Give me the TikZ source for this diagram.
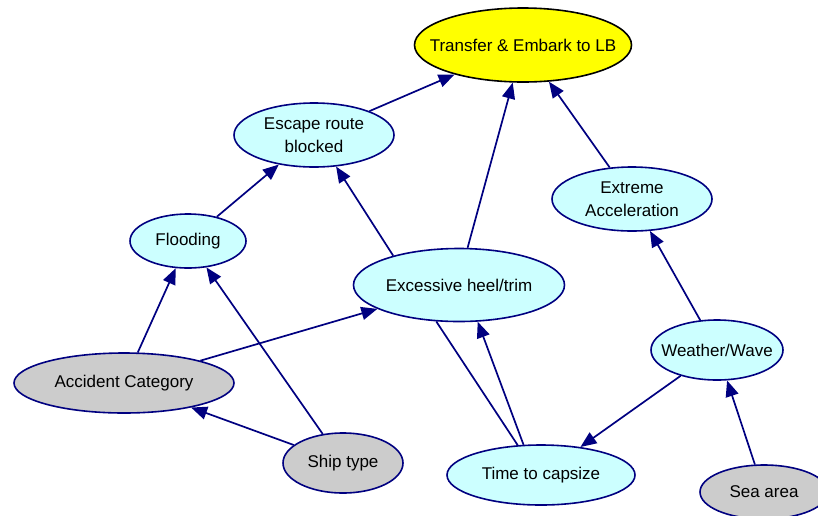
\documentclass[tikz,border=0pt]{standalone}
\usepackage{fontspec}
\setmainfont{Liberation Sans}
\usetikzlibrary{shapes.geometric,arrows.meta}
\definecolor{navyline}{RGB}{0,0,128}
\definecolor{cyanfill}{RGB}{204,255,255}
\definecolor{grayfill}{RGB}{204,204,204}
\definecolor{yellowfill}{RGB}{255,255,0}
\tikzset{
  every label/.style={align=center, font=\fontsize{17}{23}\selectfont, text=black, inner sep=0pt},
  bn/.style={ellipse, draw=navyline, line width=1.6pt, inner sep=0pt},
  obs/.style={bn, fill=cyanfill},
  evid/.style={bn, fill=grayfill},
  goal/.style={bn, fill=yellowfill, draw=black},
  link/.style={draw=navyline, line width=1.7pt, -{Triangle[length=16pt,width=13pt]}},
  plain/.style={draw=navyline, line width=1.7pt}
}
\begin{document}
\begin{tikzpicture}[x=1pt,y=-1pt]
\useasboundingbox (0,0) rectangle (818,515);
\node[goal, minimum width=217pt, minimum height=74pt, label=center:{Transfer \& Embark to LB}] (tr) at (523,45) {};
\node[obs, minimum width=160pt, minimum height=64pt, label=center:{Escape route\\blocked}] (es) at (314,135) {};
\node[obs, minimum width=160pt, minimum height=64pt, label=center:{Extreme\\Acceleration}] (ea) at (632,199) {};
\node[obs, minimum width=116pt, minimum height=54pt, label=center:{Flooding}] (fl) at (188,241) {};
\node[obs, minimum width=211pt, minimum height=73pt, label=center:{Excessive heel/trim}] (ex) at (459,285) {};
\node[obs, minimum width=132pt, minimum height=60pt, label=center:{Weather/Wave}] (ww) at (717,350) {};
\node[evid, minimum width=220pt, minimum height=60pt, label=center:{Accident Category}] (ac) at (124,383) {};
\node[evid, minimum width=120pt, minimum height=60pt, label=center:{Ship type}] (st) at (343,463) {};
\node[obs, minimum width=188pt, minimum height=60pt, label=center:{Time to capsize}] (tc) at (541,475) {};
\node[evid, minimum width=128pt, minimum height=54pt, label=center:{Sea area}] (sa) at (764,492) {};

\draw[link] (es) -- (tr);
\draw[link] (ex.77) -- (tr);
\draw[link] (ea) -- (tr);
\draw[link] (fl) -- (es);
\draw[link] (ex.156) -- (es.305);
\draw[link] (ww) -- (ea);
\draw[link] (ac) -- (fl);
\draw[link] (st) -- (fl);
\draw[link] (ac) -- (ex);
\draw[link] (st) -- (ac);
\draw[link] (tc.120) -- (ex.297);
\draw[plain] (ex.238) -- (tc.128);
\draw[link] (ww) -- (tc);
\draw[link] (sa) -- (ww);
\end{tikzpicture}
\end{document}
